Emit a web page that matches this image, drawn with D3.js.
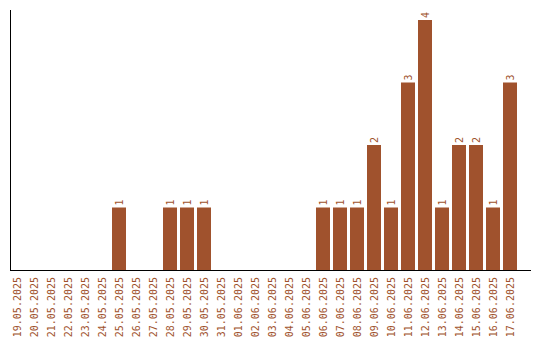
<!DOCTYPE html>
<html>
<head>
<meta charset="utf-8">
<script src="https://cdn.jsdelivr.net/npm/d3@7"></script>
<style>
  body { margin: 0; background: #fff; }
  text { font-family: "DejaVu Sans Mono", monospace; font-size: 10px; fill: #a0522d; }
</style>
</head>
<body>
<div id="chart"></div>
<script>
let visConfig = {
  width: 540,
  height: 340,
  padding: { left: 10, top: 20, bottom: 70, right: 20 }
};

const dates = [
  '19.05.2025', '20.05.2025', '21.05.2025', '22.05.2025', '23.05.2025', '24.05.2025',
  '25.05.2025', '26.05.2025', '27.05.2025', '28.05.2025', '29.05.2025', '30.05.2025',
  '31.05.2025', '01.06.2025', '02.06.2025', '03.06.2025', '04.06.2025', '05.06.2025',
  '06.06.2025', '07.06.2025', '08.06.2025', '09.06.2025', '10.06.2025', '11.06.2025',
  '12.06.2025', '13.06.2025', '14.06.2025', '15.06.2025', '16.06.2025', '17.06.2025'
];
const counts = [0, 0, 0, 0, 0, 0, 1, 0, 0, 1, 1, 1, 0, 0, 0, 0, 0, 0,
  1, 1, 1, 2, 1, 3, 4, 1, 2, 2, 1, 3];

let data = dates.map((d, i) => ({ date: d, count: counts[i] }));
let baseY = visConfig.height - visConfig.padding.bottom;

// step 17, bar 14, first bar flush with the left axis
let xscale = d3.scaleBand()
  .domain(dates)
  .range([visConfig.padding.left, visConfig.width - visConfig.padding.right])
  .paddingInner(3 / 17)
  .paddingOuter(1.5 / 17)
  .align(0);

let yscale = d3.scaleLinear()
  .domain([0, d3.max(counts)])
  .range([baseY, visConfig.padding.top]);

let svg = d3.select('#chart')
  .append('svg')
  .attr('width', visConfig.width)
  .attr('height', visConfig.height);

// bars
svg.selectAll('rect')
  .data(data.filter(d => d.count > 0))
  .enter()
  .append('rect')
  .attr('x', d => xscale(d.date))
  .attr('y', d => yscale(d.count))
  .attr('width', xscale.bandwidth())
  .attr('height', d => baseY - yscale(d.count))
  .style('fill', '#a0522d');

// value labels above bars
svg.selectAll('.val')
  .data(data.filter(d => d.count > 0))
  .enter()
  .append('text')
  .attr('class', 'val')
  .attr('transform', d => `translate(${xscale(d.date) + xscale.bandwidth() / 2}, ${yscale(d.count) - 2}) rotate(-90)`)
  .attr('dy', '0.35em')
  .text(d => d.count);

// date labels
svg.selectAll('.date')
  .data(data)
  .enter()
  .append('text')
  .attr('class', 'date')
  .attr('transform', d => `translate(${xscale(d.date) + xscale.bandwidth() / 2}, ${baseY + 7}) rotate(-90)`)
  .attr('dy', '0.35em')
  .attr('text-anchor', 'end')
  .text(d => d.date);

// axis lines
svg.append('line')
  .attr('x1', 10.5).attr('x2', 10.5)
  .attr('y1', 10).attr('y2', baseY)
  .style('stroke', '#000');
svg.append('line')
  .attr('x1', 10).attr('x2', 531)
  .attr('y1', baseY + 0.5).attr('y2', baseY + 0.5)
  .style('stroke', '#000');
</script>
</body>
</html>
